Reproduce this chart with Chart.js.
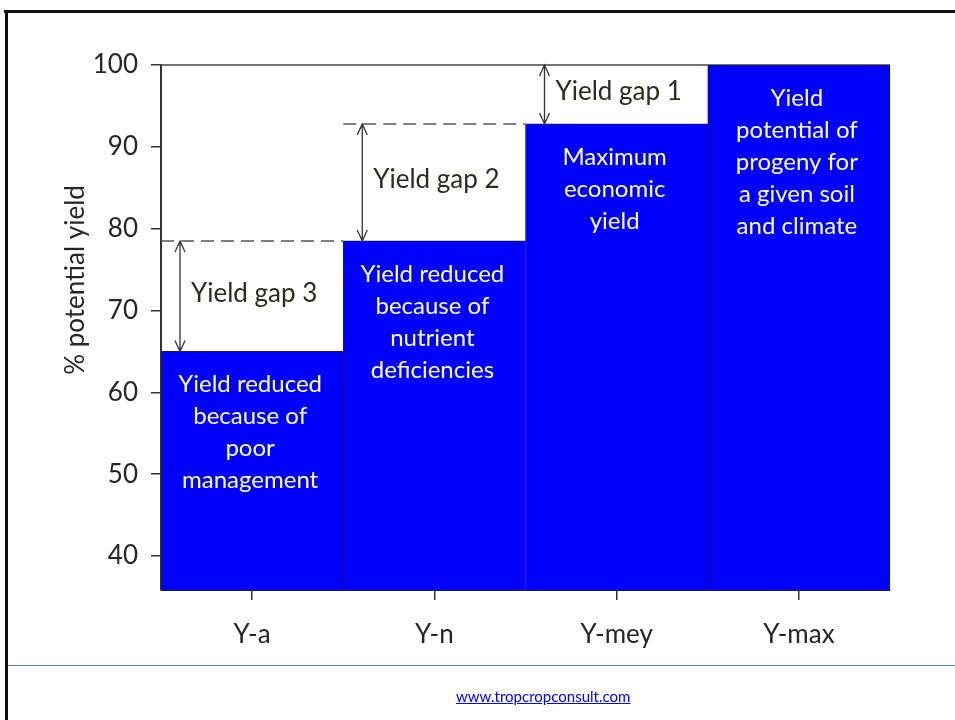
<!DOCTYPE html>
<html>
<head>
<meta charset="utf-8">
<script src="https://cdn.jsdelivr.net/npm/chart.js@4.4.1/dist/chart.umd.min.js"></script>
<style>
  html, body { margin: 0; padding: 0; background: #fff; }
  #wrap { position: relative; width: 955px; height: 720px; overflow: hidden; }
  #chart { position: absolute; left: 0; top: 0; }
  .frame-top { position: absolute; left: 4px; top: 10px; width: 951px; height: 3px; background: #111; }
  .frame-left { position: absolute; left: 5px; top: 10px; width: 3px; height: 710px; background: #111; }
  .rule { position: absolute; left: 8px; top: 665px; width: 947px; height: 1px; background: #4f81bd; }
  .link { position: absolute; left: 456px; top: 687px; font: 15px Lato, sans-serif; color: #0000ff; text-decoration: underline; }
</style>
</head>
<body>
<div id="wrap">
  <canvas id="chart" width="955" height="720"></canvas>
  <div class="frame-top"></div>
  <div class="frame-left"></div>
  <div class="rule"></div>
  <a class="link" href="#">www.tropcropconsult.com</a>
</div>
<script>
const categories = ['Y-a', 'Y-n', 'Y-mey', 'Y-max']
const yieldValues = [65, 78.5, 92.8, 100]
const barTexts = [
  ['Yield reduced', 'because of', 'poor', 'management'],
  ['Yield reduced', 'because of', 'nutrient', 'deficiencies'],
  ['Maximum', 'economic', 'yield'],
  ['Yield', 'potential of', 'progeny for', 'a given soil', 'and climate'],
]
const gapLabels = ['Yield gap 3', 'Yield gap 2', 'Yield gap 1']
const yTicks = [40, 50, 60, 70, 80, 90, 100]
const yMin = 35.85
const yMax = 100

const FONT = 'Lato, sans-serif'
const TEXT_DARK = '#262626'

// draws the frame line at 100, dashed steps, gap arrows and all annotation text
const yieldGapPlugin = {
  id: 'yieldGaps',
  beforeDatasetsDraw(chart) {
    const { ctx, chartArea, scales } = chart
    const yTop = scales.y.getPixelForValue(yMax)
    ctx.save()
    ctx.strokeStyle = '#444'
    ctx.lineWidth = 1.5
    ctx.beginPath()
    ctx.moveTo(chartArea.left, yTop)
    ctx.lineTo(chartArea.right, yTop)
    ctx.stroke()
    ctx.restore()
  },
  afterDatasetsDraw(chart) {
    const { ctx, scales } = chart
    const bars = chart.getDatasetMeta(0).data
    ctx.save()

    // dashed steps and arrows between neighbouring bars
    for (let i = 1; i < bars.length; i++) {
      const prev = bars[i - 1]
      const cur = bars[i]
      const prevLeft = prev.x - prev.width / 2
      const curLeft = cur.x - cur.width / 2
      const yLow = scales.y.getPixelForValue(yieldValues[i - 1])
      const yHigh = scales.y.getPixelForValue(yieldValues[i])

      if (i < bars.length - 1) {
        ctx.strokeStyle = '#555'
        ctx.lineWidth = 1.5
        ctx.setLineDash([13, 7])
        ctx.beginPath()
        ctx.moveTo(prevLeft, yHigh)
        ctx.lineTo(curLeft, yHigh)
        ctx.stroke()
        ctx.setLineDash([])
      }

      const ax = prevLeft + 19
      ctx.strokeStyle = '#333'
      ctx.lineWidth = 1.3
      ctx.beginPath()
      ctx.moveTo(ax, yLow)
      ctx.lineTo(ax, yHigh)
      ctx.moveTo(ax - 5, yHigh + 11)
      ctx.lineTo(ax, yHigh)
      ctx.lineTo(ax + 5, yHigh + 11)
      ctx.moveTo(ax - 5, yLow - 11)
      ctx.lineTo(ax, yLow)
      ctx.lineTo(ax + 5, yLow - 11)
      ctx.stroke()

      ctx.fillStyle = '#2b2b1e'
      ctx.font = '26px ' + FONT
      ctx.textAlign = 'center'
      ctx.textBaseline = 'middle'
      ctx.fillText(gapLabels[i - 1], prev.x + 2, (yLow + yHigh) / 2 - 3)
    }

    // white text inside bars
    ctx.fillStyle = '#ffffff'
    ctx.font = '24px ' + FONT
    ctx.textAlign = 'center'
    ctx.textBaseline = 'middle'
    bars.forEach((bar, i) => {
      barTexts[i].forEach((line, j) => {
        ctx.fillText(line, bar.x - 2, bar.y + 33 + j * 32)
      })
    })

    // axis title
    ctx.fillStyle = TEXT_DARK
    ctx.font = '26px ' + FONT
    ctx.translate(76, 280)
    ctx.rotate(-Math.PI / 2)
    ctx.fillText('% potential yield', 0, 0)
    ctx.restore()
  },
}

new Chart(document.getElementById('chart'), {
  type: 'bar',
  data: {
    labels: categories,
    datasets: [{
      data: yieldValues,
      backgroundColor: '#0000ff',
      borderColor: '#1b1b4a',
      borderWidth: 1,
      borderSkipped: false,
      barPercentage: 1,
      categoryPercentage: 1,
    }],
  },
  options: {
    responsive: false,
    devicePixelRatio: 1,
    animation: false,
    layout: { padding: { top: 65, right: 65, left: 0, bottom: 0 } },
    plugins: { legend: { display: false }, tooltip: { enabled: false } },
    scales: {
      x: {
        afterFit: (scale) => { scale.height = 130 },
        grid: { offset: false, drawOnChartArea: false, tickLength: 10, color: '#333', lineWidth: 1.5 },
        border: { display: true, color: '#1b1b4a', width: 1 },
        ticks: { padding: 19, color: TEXT_DARK, font: { family: FONT, size: 26 } },
      },
      y: {
        min: yMin,
        max: yMax,
        afterFit: (scale) => { scale.width = 161 },
        afterBuildTicks: (scale) => { scale.ticks = yTicks.map(v => ({ value: v })) },
        grid: { drawOnChartArea: false, tickLength: 10, color: '#333', lineWidth: 1.5 },
        border: { display: true, color: '#333', width: 2 },
        ticks: { padding: 13, color: TEXT_DARK, font: { family: FONT, size: 26 } },
      },
    },
  },
  plugins: [yieldGapPlugin],
})
</script>
</body>
</html>
